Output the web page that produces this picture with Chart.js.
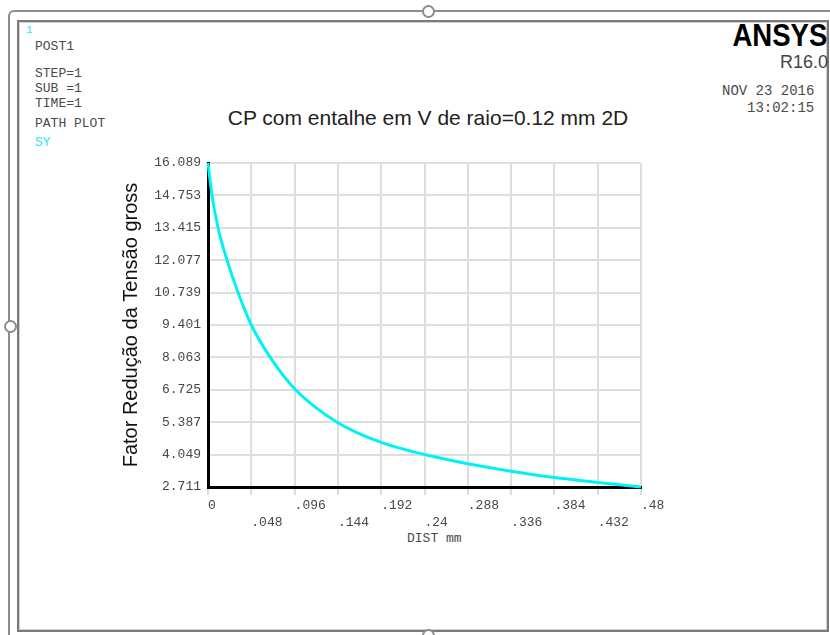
<!DOCTYPE html>
<html>
<head>
<meta charset="utf-8">
<script src="https://cdn.jsdelivr.net/npm/chart.js@4"></script>
<style>
    html, body { margin: 0; padding: 0; background: #fff; }
    #wrap { position: relative; width: 830px; height: 635px; overflow: hidden; }
    #chart-box { position: absolute; left: 0; top: 0; width: 830px; height: 635px; }
    .frame-outer { position: absolute; left: 8px; top: 10px; width: 840px; height: 640px;
        border-top: 2px solid #8c8c8c; border-left: 2px solid #8c8c8c; border-top-left-radius: 6px; }
    .frame-inner { position: absolute; left: 17px; top: 20px; width: 808px; height: 608px;
        border: 2px solid #7a7a7a; box-shadow: inset 0 0 0 1px #d0d0d0; }
    .handle { position: absolute; width: 9px; height: 9px; border: 2px solid #8c8c8c; border-radius: 50%; background: #fff; }
    .mono { position: absolute; font-family: "Liberation Mono", "DejaVu Sans Mono", monospace;
        font-size: 13px; line-height: 14px; color: #4a4a4a; white-space: pre; }
    .cyan { color: #2fe3f2; }
    #ansys { position: absolute; right: 3px; top: 17px; font-family: "Liberation Sans", Arial, sans-serif;
        font-weight: bold; font-size: 32px; line-height: 36px; color: #000; transform: scaleX(0.86); transform-origin: right center; }
    #rel { position: absolute; right: 2px; top: 52px; font-family: "Liberation Sans", Arial, sans-serif;
        font-size: 18px; line-height: 20px; color: #444; }
    #title { position: absolute; left: 0; width: 856px; top: 106px; text-align: center;
        font-family: "Liberation Sans", Arial, sans-serif; font-size: 21px; line-height: 24px; color: #222; }
</style>
</head>
<body>
<div id="wrap">
    <div class="frame-outer"></div>
    <div class="frame-inner"></div>
    <div class="handle" style="left:422px; top:5px;"></div>
    <div class="handle" style="left:4px; top:320px;"></div>
    <div class="handle" style="left:422px; top:629px;"></div>

    <div class="mono cyan" style="left:26px; top:23px; font-size:11px;">1</div>
    <div class="mono" style="left:35px; top:40px;">POST1</div>
    <div class="mono" style="left:35px; top:67px;">STEP=1</div>
    <div class="mono" style="left:35px; top:82px;">SUB =1</div>
    <div class="mono" style="left:35px; top:97px;">TIME=1</div>
    <div class="mono" style="left:35px; top:117px;">PATH PLOT</div>
    <div class="mono cyan" style="left:35px; top:136px;">SY</div>

    <div id="ansys">ANSYS</div>
    <div id="rel">R16.0</div>
    <div class="mono" style="left:722px; top:84px; font-size:14px;">NOV 23 2016</div>
    <div class="mono" style="left:747px; top:101px; font-size:14px;">13:02:15</div>

    <div id="title">CP com entalhe em V de raio=0.12 mm 2D</div>
    <div class="mono" style="left:407px; top:532px;">DIST mm</div>

    <div id="chart-box"><canvas id="path-chart"></canvas></div>
</div>

<script>
// --- Data --- //
const distX = [0, 0.0044, 0.0111, 0.0211, 0.0333, 0.048, 0.069, 0.097, 0.143, 0.192, 0.24, 0.288, 0.336, 0.384, 0.432, 0.48];
const sy = [16.089, 14.753, 13.415, 12.077, 10.739, 9.401, 8.063, 6.725, 5.387, 4.55, 4.05, 3.67, 3.36, 3.1, 2.9, 2.711];

const xTickValues = [0, 0.048, 0.096, 0.144, 0.192, 0.24, 0.288, 0.336, 0.384, 0.432, 0.48];
const xTickLabels = ['0', '.048', '.096', '.144', '.192', '.24', '.288', '.336', '.384', '.432', '.48'];
const yTickValues = [2.711, 4.049, 5.387, 6.725, 8.063, 9.401, 10.739, 12.077, 13.415, 14.753, 16.089];
const yTickLabels = ['2.711', '4.049', '5.387', '6.725', '8.063', '9.401', '10.739', '12.077', '13.415', '14.753', '16.089'];

const monoFont = { family: '"Liberation Mono", "DejaVu Sans Mono", monospace', size: 13 };

const ctx = document.getElementById('path-chart').getContext('2d');
new Chart(ctx, {
    type: 'scatter',
    data: {
        datasets: [{
            label: 'SY',
            data: distX.map((x, i) => ({ x: x, y: sy[i] })),
            showLine: true,
            borderColor: '#00f2f7',
            borderWidth: 3,
            pointRadius: 0,
            cubicInterpolationMode: 'monotone',
            clip: 6
        }]
    },
    options: {
        responsive: true,
        maintainAspectRatio: false,
        animation: false,
        layout: { padding: { left: 110, right: 189, top: 163, bottom: 78 } },
        plugins: { legend: { display: false }, tooltip: { enabled: false } },
        scales: {
            x: {
                type: 'linear',
                min: 0,
                max: 0.48,
                afterFit: (scale) => { scale.height = 70; },
                afterBuildTicks: (scale) => { scale.ticks = xTickValues.map(v => ({ value: v })); },
                ticks: {
                    autoSkip: false,
                    maxRotation: 0,
                    align: 'start',
                    padding: 2,
                    color: '#4b4450',
                    font: { ...monoFont, lineHeight: 1.3 },
                    callback: (v, i) => i % 2 ? ['', xTickLabels[i]] : xTickLabels[i]
                },
                grid: { color: '#dedede', lineWidth: 2, tickLength: 8 },
                border: { color: '#000', width: 3 }
            },
            y: {
                type: 'linear',
                min: 2.711,
                max: 16.089,
                afterFit: (scale) => { scale.width = 98; },
                afterBuildTicks: (scale) => { scale.ticks = yTickValues.map(v => ({ value: v })); },
                ticks: {
                    padding: 7,
                    color: '#4b4450',
                    font: monoFont,
                    callback: (v, i) => yTickLabels[i]
                },
                grid: { color: '#dedede', lineWidth: 2, drawTicks: false },
                border: { color: '#000', width: 3 },
                title: {
                    display: true,
                    text: 'Fator Redução da Tensão gross',
                    color: '#111',
                    font: { family: '"Liberation Sans", Arial, sans-serif', size: 20 },
                    padding: { top: 9, bottom: 0 }
                }
            }
        }
    }
});
</script>
</body>
</html>
